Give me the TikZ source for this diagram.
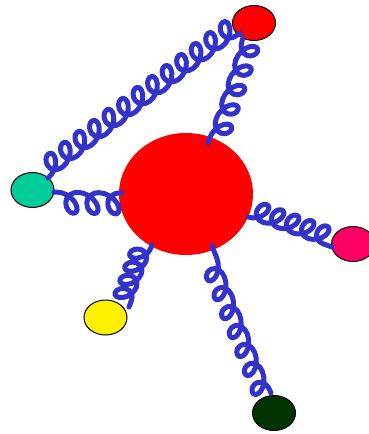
\documentclass[tikz,border=0pt]{standalone}
\usetikzlibrary{decorations.pathmorphing,calc,shapes.geometric}
\definecolor{gluonblue}{RGB}{51,51,204}
\definecolor{tealc}{RGB}{0,204,153}
\definecolor{pinkc}{RGB}{255,0,102}
\definecolor{dkgreenc}{RGB}{0,51,0}
\newcommand\glshear{0.3}
\newcommand\glpt[3]{\pgfpoint{(#1)*\pgfdecorationsegmentlength+(#2)*\pgfdecorationsegmentaspect*\pgfdecorationsegmentamplitude-(#3)*\glshear*\pgfdecorationsegmentamplitude}{(#3)*\pgfdecorationsegmentamplitude}}
\pgfdeclaredecoration{gluonloop}{loop}{
  \state{loop}[switch if less than=\pgfdecorationsegmentlength to final, width=\pgfdecorationsegmentlength]{
    \pgfpathcurveto{\glpt{0.08333}{0.5523}{0}}{\glpt{0.16667}{1}{-0.4477}}{\glpt{0.25}{1}{-1}}
    \pgfpathcurveto{\glpt{0.33333}{1}{-1.5523}}{\glpt{0.41667}{0.5523}{-2}}{\glpt{0.5}{0}{-2}}
    \pgfpathcurveto{\glpt{0.58333}{-0.5523}{-2}}{\glpt{0.66667}{-1}{-1.5523}}{\glpt{0.75}{-1}{-1}}
    \pgfpathcurveto{\glpt{0.83333}{-1}{-0.4477}}{\glpt{0.91667}{-0.5523}{0}}{\glpt{1}{0}{0}}
  }
  \state{final}{\pgfpathlineto{\pgfpointdecoratedpathlast}}
}
\begin{document}
\begin{tikzpicture}[x=1pt,y=-1pt,
  blob/.style={ellipse, draw=black, line width=1pt, minimum width=43pt, minimum height=35pt, inner sep=0pt},
  gluon/.style={draw=gluonblue, line width=5pt, line cap=round, line join=round,
    decorate, decoration={gluonloop, amplitude=9pt, aspect=1}}]
\useasboundingbox (0,0) rectangle (368,434);
\node[ellipse, fill=red, minimum width=134pt, minimum height=122pt, inner sep=0pt] (big) at (186,194) {};
\node[blob, fill=red] (topred) at (254,23) {};
\node[blob, fill=tealc] (teal) at (32.5,190) {};
\node[blob, fill=pinkc] (pink) at (353,244) {};
\node[blob, fill=yellow] (yellow) at (105.5,317.5) {};
\node[blob, fill=dkgreenc] (dkgreen) at (274,413) {};
\draw[gluon, decoration={segment length=21pt, amplitude=10.5pt, aspect=0.95, pre length=3pt}]
  ($(teal.center)+(21.5,2)$) -- ($(big.center)+(-64,-1)$);
\draw[gluon, decoration={segment length=18.2pt, amplitude=9.5pt, aspect=0.98, mirror}]
  ($(teal.center)+(15.5,-12)$) -- ($(topred.center)+(-14,10)$);
\draw[gluon, decoration={segment length=20.5pt, aspect=1.07, pre length=5pt}]
  ($(big.center)+(22,-51)$) -- ($(topred.center)+(-11,15)$);
\draw[gluon, decoration={segment length=16pt, aspect=0.95, mirror}]
  ($(big.center)+(62,23)$) -- ($(pink.center)+(-21,3)$);
\draw[gluon, decoration={segment length=14pt, aspect=0.9, pre length=3pt}]
  ($(big.center)+(-34,51)$) -- ($(yellow.center)+(23.5,-10.5)$);
\draw[gluon, decoration={segment length=20.4pt, amplitude=8.5pt, aspect=1.13, pre length=13pt}]
  ($(big.center)+(26,52)$) -- ($(dkgreen.center)+(-3,-20)$);
\end{tikzpicture}
\end{document}
